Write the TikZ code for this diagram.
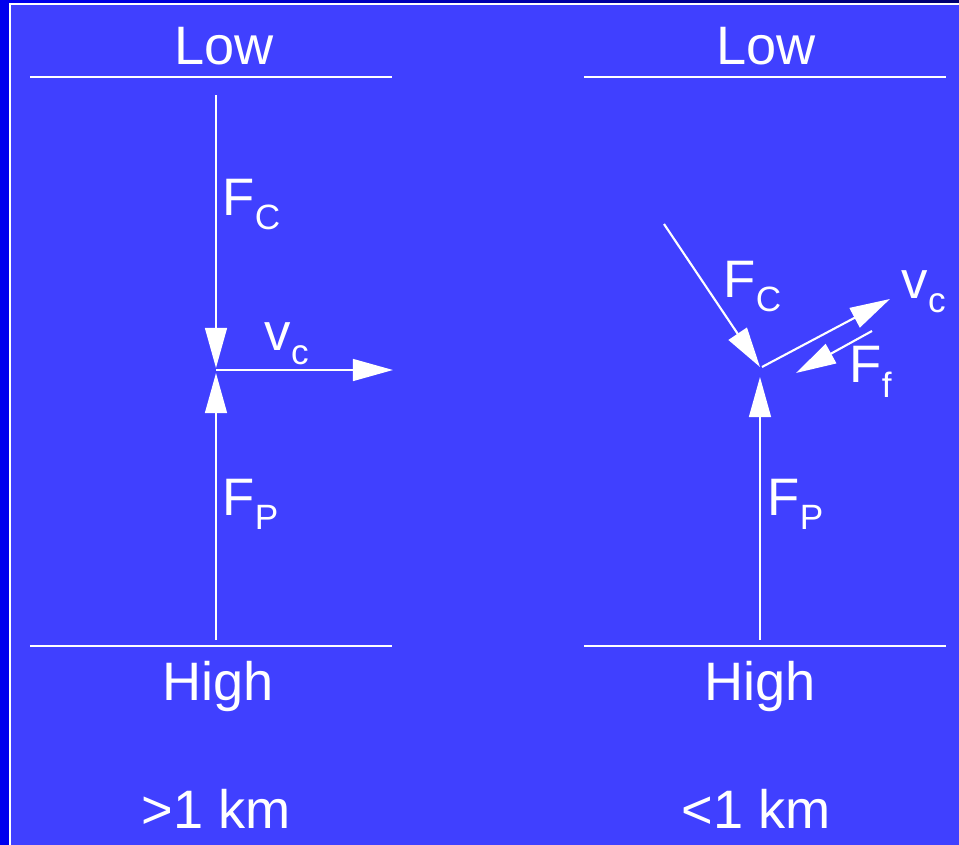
\documentclass[tikz,border=0pt]{standalone}
\usepackage{fontspec}
\setmainfont{Liberation Sans}
\usepackage{tikz}
\usetikzlibrary{arrows.meta}
\definecolor{fons}{RGB}{64,64,255}
\definecolor{vora}{RGB}{0,0,238}
\definecolor{voraf}{RGB}{0,0,110}
\newcommand{\subix}[1]{\raisebox{-4pt}{\fontsize{10pt}{11pt}\selectfont #1}}

\begin{document}
\begin{tikzpicture}[x=0.01cm, y=-0.01cm,
    >={Triangle[length=11.4pt,width=6.2pt]},
    linia/.style={white, line width=0.6pt},
    fletxa/.style={->, white, line width=0.6pt},
    gran/.style={text=white, inner sep=0pt, anchor=base,
        font=\fontsize{15.4pt}{18pt}\selectfont},
    etiq/.style={text=white, inner sep=0pt, anchor=base west,
        font=\fontsize{15pt}{18pt}\selectfont}]

\useasboundingbox (0,0) rectangle (959,845);

% Fons i vora
\fill[vora] (0,0) rectangle (959,845);
\shade[left color=vora, right color=voraf] (0,0) rectangle (959,4);
\draw[
    white,
    line width=0.6pt
] (10,880) -- (10,4) -- (990,4);
\fill[fons] (11,5) rectangle (959,845);

% Panell esquerre: punts
\coordinate (e-sup1) at (30,77);
\coordinate (e-sup2) at (392,77);
\coordinate (e-inf1) at (30,646);
\coordinate (e-inf2) at (392,646);
\coordinate (e-dalt) at (216,95);
\coordinate (e-cent) at (216,370);
\coordinate (e-cent1) at (216,368);
\coordinate (e-cent2) at (216,373);
\coordinate (e-baix) at (216,640);
\coordinate (e-vc) at (393,370);

% Línies de pressió
\draw[linia] (e-sup1) -- (e-sup2);
\draw[linia] (e-inf1) -- (e-inf2);

% Forces i velocitat
\draw[fletxa] (e-dalt) -- (e-cent1);
\draw[fletxa] (e-baix) -- (e-cent2);
\draw[fletxa] (e-cent) -- (e-vc);

% Textos
\node[gran] (e-low) at (224,64) {Low};
\node[gran] (e-high) at (218,700) {High};
\node[gran] (e-km) at (216,828) {>1 km};
\node[etiq] (e-fc) at (222,215) {F\subix{C}};
\node[etiq] (e-v) at (264,350) {v\subix{c}};
\node[etiq] (e-fp) at (222,515) {F\subix{P}};

% Panell dret: punts
\coordinate (d-sup1) at (584,77);
\coordinate (d-sup2) at (946,77);
\coordinate (d-inf1) at (584,646);
\coordinate (d-inf2) at (946,646);
\coordinate (d-cent) at (760,367);
\coordinate (d-vc0) at (762,367);
\coordinate (d-fp1) at (760,377);
\coordinate (d-fc0) at (664,224);
\coordinate (d-vc) at (890,299);
\coordinate (d-ff0) at (872,331);
\coordinate (d-ff1) at (796,373);
\coordinate (d-baix) at (760,640);

% Línies de pressió
\draw[linia] (d-sup1) -- (d-sup2);
\draw[linia] (d-inf1) -- (d-inf2);

% Forces i velocitat
\draw[fletxa] (d-fc0) -- (d-cent);
\draw[fletxa] (d-vc0) -- (d-vc);
\draw[fletxa] (d-ff0) -- (d-ff1);
\draw[fletxa] (d-baix) -- (d-fp1);

% Textos
\node[gran] (d-low) at (766,64) {Low};
\node[gran] (d-high) at (760,700) {High};
\node[gran] (d-km) at (756,828) {<1 km};
\node[etiq] (d-fc) at (723,297) {F\subix{C}};
\node[etiq] (d-v) at (901,298) {v\subix{c}};
\node[etiq] (d-ff) at (849,383) {F\subix{f}};
\node[etiq] (d-fp) at (767,515) {F\subix{P}};

\end{tikzpicture}
\end{document}
